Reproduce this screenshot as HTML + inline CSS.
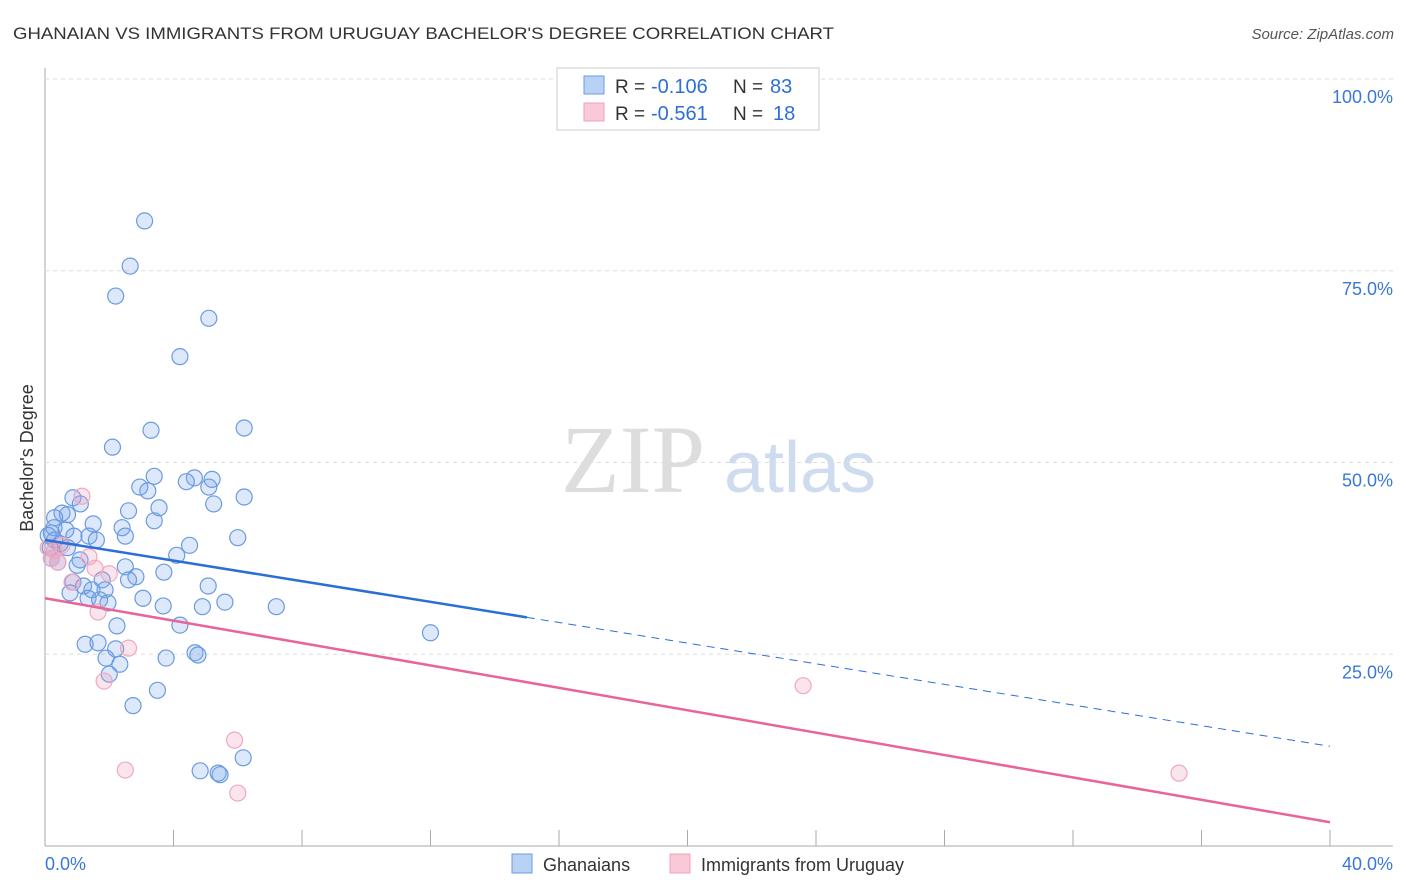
<!DOCTYPE html>
<html><head><meta charset="utf-8"><style>
body{margin:0;background:#fff;font-family:"Liberation Sans",sans-serif;}
#wrap{position:relative;width:1406px;height:892px;overflow:hidden;}
</style></head><body>
<div id="wrap">
<svg id="svg" width="1406" height="892" xmlns="http://www.w3.org/2000/svg">
<text x="13" y="39" font-size="17" fill="#333" textLength="821" lengthAdjust="spacingAndGlyphs">GHANAIAN VS IMMIGRANTS FROM URUGUAY BACHELOR'S DEGREE CORRELATION CHART</text>
<text x="1394" y="39" font-size="15" fill="#555" font-style="italic" text-anchor="end">Source: ZipAtlas.com</text>
<text x="33" y="458" font-size="18" fill="#333" transform="rotate(-90 33 458)" text-anchor="middle">Bachelor's Degree</text>
<text x="633" y="492" font-size="96" fill="#ddd" font-family="Liberation Serif,serif" text-anchor="middle">ZIP</text>
<text x="800" y="492" font-size="72" fill="#cfdcf0" text-anchor="middle">atlas</text>
<g id="grid"></g><g id="pts"></g><g id="trend"></g>
<g>
<rect x="557" y="68" width="262" height="62" fill="#fff" stroke="#ccc"/>
<rect x="584" y="76" width="20" height="18" fill="#b8d2f5" stroke="#6a9be0"/>
<rect x="584" y="103" width="20" height="18" fill="#f9c9d8" stroke="#f0a0bc"/>
<text x="615" y="93" font-size="19" fill="#333">R =</text>
<text x="651" y="93" font-size="20" fill="#2d6fd6">-0.106</text>
<text x="733" y="93" font-size="19" fill="#333">N =</text>
<text x="770" y="93" font-size="20" fill="#2d6fd6">83</text>
<text x="615" y="120" font-size="19" fill="#333">R =</text>
<text x="651" y="120" font-size="20" fill="#2d6fd6">-0.561</text>
<text x="733" y="120" font-size="19" fill="#333">N =</text>
<text x="773" y="120" font-size="20" fill="#2d6fd6">18</text>
</g>
<g>
<rect x="512" y="854" width="20" height="19" fill="#b8d2f5" stroke="#6a9be0"/>
<text x="543" y="871" font-size="18" fill="#333">Ghanaians</text>
<rect x="670" y="854" width="20" height="19" fill="#f9c9d8" stroke="#f0a0bc"/>
<text x="701" y="871" font-size="18" fill="#333">Immigrants from Uruguay</text>
</g>
</svg></div>
<script>
const yTicks=[25,50,75,100];
const xTickLabels=["0.0%","40.0%"];
const blueX=[3.1,2.65,2.2,5.1,4.2,3.3,6.2,2.1,3.4,4.65,4.4,5.2,2.95,3.2,5.1,6.2,0.87,1.1,5.25,3.55,2.6,0.53,0.7,0.3,3.4,1.5,2.4,0.28,0.65,0.2,0.9,1.37,2.5,6.0,0.3,1.6,0.47,4.5,0.16,4.1,1.09,0.4,1.0,2.5,3.7,2.83,1.78,2.6,0.87,5.08,1.2,1.46,1.87,0.78,3.05,1.34,1.7,5.6,1.96,3.68,4.9,7.2,4.2,2.24,12.0,1.25,1.65,2.2,4.67,4.76,3.77,1.9,2.33,2.0,3.5,2.74,6.17,4.83,5.39,5.45,0.2,0.1,0.7];
const blueY=[81.5,75.6,71.7,68.8,63.8,54.2,54.5,52.0,48.2,48.0,47.5,47.8,46.8,46.3,46.8,45.5,45.4,44.6,44.6,44.1,43.7,43.4,43.2,42.8,42.4,42.0,41.5,41.5,41.2,40.8,40.4,40.4,40.4,40.2,39.9,39.9,39.4,39.2,38.9,37.9,37.3,37.0,36.6,36.4,35.7,35.1,34.7,34.7,34.4,33.9,33.9,33.4,33.4,33.0,32.3,32.3,32.1,31.8,31.7,31.3,31.2,31.2,28.8,28.7,27.8,26.3,26.5,25.7,25.2,24.9,24.5,24.5,23.7,22.4,20.3,18.3,11.5,9.8,9.5,9.3,37.5,40.5,38.9];
const pinkX=[1.15,0.53,0.3,1.37,0.4,0.2,1.56,2.0,0.84,1.65,2.6,1.84,2.5,5.9,6.0,23.6,35.3,0.1];
const pinkY=[45.6,39.2,38.5,37.7,37.0,37.5,36.2,35.5,34.4,30.5,25.8,21.5,9.9,13.8,6.9,20.9,9.5,38.9];
const blueTrend=[39.9,13.0];
const pinkTrend=[32.3,3.1];
const blueSolidEnd=15;
const X=v=>45+v*32.125, Y=v=>846-v*7.67;
const NS="http://www.w3.org/2000/svg";
function mk(t,a,p){const e=document.createElementNS(NS,t);for(const k in a)e.setAttribute(k,a[k]);p.appendChild(e);return e;}
const grid=document.getElementById('grid');
mk('line',{x1:45,y1:68,x2:45,y2:846,stroke:'#aaa'},grid);
mk('line',{x1:45,y1:846,x2:1393,y2:846,stroke:'#aaa'},grid);
for(let i=1;i<=10;i++){const l=mk('line',{x1:X(i*4),y1:830,x2:X(i*4),y2:846,stroke:'#aaa'},grid);

}
mk('line',{x1:45,y1:Y(100),x2:1393,y2:Y(100),stroke:'#ddd','stroke-dasharray':'4,4'},grid);
yTicks.forEach(t=>{mk('line',{x1:45,y1:Y(t),x2:1393,y2:Y(t),stroke:'#ddd','stroke-dasharray':'4,4'},grid);
const tx=mk('text',{x:1393,y:Y(t)+24,'font-size':18,fill:'#3a78d8','text-anchor':'end'},grid);tx.textContent=t.toFixed(1)+'%';

});
const xl0=mk('text',{x:45,y:870,'font-size':18,fill:'#3a78d8'},grid);xl0.textContent=xTickLabels[0];


const xl1=mk('text',{x:1393,y:870,'font-size':18,fill:'#3a78d8','text-anchor':'end'},grid);xl1.textContent=xTickLabels[1];


const pts=document.getElementById('pts');
blueX.forEach((v,i)=>{const c=mk('circle',{cx:X(v),cy:Y(blueY[i]),r:8,fill:'rgba(120,165,235,0.25)',stroke:'#6a9be0','stroke-width':1.2},pts);

});
pinkX.forEach((v,i)=>{const c=mk('circle',{cx:X(v),cy:Y(pinkY[i]),r:8,fill:'rgba(240,150,180,0.25)',stroke:'#f0a8c0','stroke-width':1.2},pts);

});
const tr=document.getElementById('trend');
const bAt=x=>blueTrend[0]+(blueTrend[1]-blueTrend[0])*x/40;
const l1=mk('line',{x1:X(0),y1:Y(bAt(0)),x2:X(blueSolidEnd),y2:Y(bAt(blueSolidEnd)),stroke:'#2a6fd6','stroke-width':2.5},tr);


const l2=mk('line',{x1:X(blueSolidEnd),y1:Y(bAt(blueSolidEnd)),x2:X(40),y2:Y(bAt(40)),stroke:'#2a6fd6','stroke-width':1,'stroke-dasharray':'8,6'},tr);


const l3=mk('line',{x1:X(0),y1:Y(pinkTrend[0]),x2:X(40),y2:Y(pinkTrend[1]),stroke:'#e8649a','stroke-width':2.5},tr);


</script>
</body></html>
